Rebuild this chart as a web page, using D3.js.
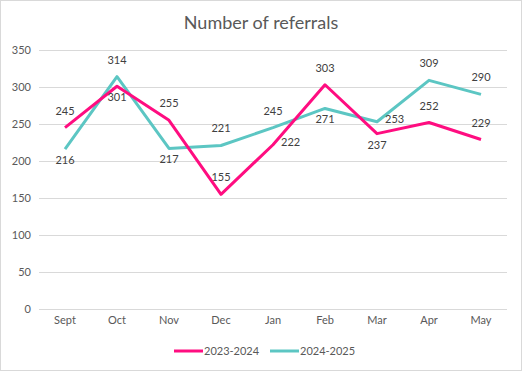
<!DOCTYPE html>
<html>
<head>
<meta charset="utf-8">
<script src="https://cdn.jsdelivr.net/npm/d3@7"></script>
<style>
  body { margin: 0; background: #fff; }
  svg { font-family: Lato, "Open Sans", sans-serif; display: block; }
</style>
</head>
<body>
<svg id="chart" width="522" height="371"></svg>
<script>
const months = ["Sept", "Oct", "Nov", "Dec", "Jan", "Feb", "Mar", "Apr", "May"]
const values2324 = [245, 301, 255, 155, 222, 303, 237, 252, 229]
const values2425 = [216, 314, 217, 221, 245, 271, 253, 309, 290]
// where each data label sits relative to its point
const labelPos2324 = ["above", "below", "above", "above", "right", "above", "below", "above", "above"]
const labelPos2425 = ["below", "above", "below", "above", "above", "below", "right", "above", "above"]
const yTicks = [0, 50, 100, 150, 200, 250, 300, 350]

const series = [
  { name: "2023-2024", values: values2324, pos: labelPos2324, colour: "#ff0d80" },
  { name: "2024-2025", values: values2425, pos: labelPos2425, colour: "#5cc6c3" }
]

const width = 522, height = 371
const svg = d3.select("#chart")

// outer border
svg.append("rect")
  .attr("x", 0.5).attr("y", 0.5)
  .attr("width", width - 1).attr("height", height - 1)
  .attr("fill", "#fff").attr("stroke", "#d9d9d9")

const x = d3.scaleBand().domain(months).range([39, 507])
const y = d3.scaleLinear().domain([0, 350]).range([309, 50])

svg.append("text")
  .attr("x", 261).attr("y", 29)
  .attr("text-anchor", "middle")
  .attr("font-size", 18)
  .attr("fill", "#595959")
  .text("Number of referrals")

// gridlines
svg.append("g").selectAll("line").data(yTicks)
  .join("line")
  .attr("x1", 39).attr("x2", 507)
  .attr("y1", d => Math.round(y(d)) + 0.5)
  .attr("y2", d => Math.round(y(d)) + 0.5)
  .attr("stroke", "#d9d9d9")

// y axis labels
const yAxis = svg.append("g")
  .attr("transform", "translate(31,0)")
  .call(d3.axisLeft(y).tickValues(yTicks).tickSize(0).tickPadding(0))
yAxis.select(".domain").remove()
yAxis.selectAll("text")
  .attr("font-size", 11).attr("fill", "#595959")
  .attr("font-family", "Lato, sans-serif")

// x axis labels
const xAxis = svg.append("g")
  .attr("transform", "translate(0,316)")
  .call(d3.axisBottom(x).tickSize(0).tickPadding(0))
xAxis.select(".domain").remove()
xAxis.selectAll("text")
  .attr("font-size", 11).attr("fill", "#595959")
  .attr("font-family", "Lato, sans-serif")

const cx = d => x(d) + x.bandwidth() / 2

const line = d3.line()
  .x((d, i) => cx(months[i]))
  .y(d => y(d))

// draw teal first so pink sits on top where they cross
series.slice().reverse().forEach(s => {
  svg.append("path")
    .datum(s.values)
    .attr("d", line)
    .attr("fill", "none")
    .attr("stroke", s.colour)
    .attr("stroke-width", 3)
    .attr("stroke-linejoin", "round")
})

// data labels
series.forEach(s => {
  svg.append("g").selectAll("text").data(s.values)
    .join("text")
    .attr("font-size", 11)
    .attr("fill", "#404040")
    .attr("text-anchor", (d, i) => s.pos[i] == "right" ? "start" : "middle")
    .attr("x", (d, i) => {
      const px = cx(months[i])
      return s.pos[i] == "right" ? px + 8 : px
    })
    .attr("y", (d, i) => {
      const py = y(d)
      if (s.pos[i] == "above") return py - 13
      if (s.pos[i] == "below") return py + 15
      return py + 1
    })
    .text(d => d)
})

// legend
const legend = svg.append("g").attr("transform", "translate(174,351)")
series.forEach((s, i) => {
  const g = legend.append("g").attr("transform", `translate(${i * 96},0)`)
  g.append("line")
    .attr("x1", 0).attr("x2", 29)
    .attr("stroke", s.colour).attr("stroke-width", 3)
  g.append("text")
    .attr("x", 30).attr("y", 4)
    .attr("font-size", 11).attr("fill", "#595959")
    .text(s.name)
})
</script>
</body>
</html>
